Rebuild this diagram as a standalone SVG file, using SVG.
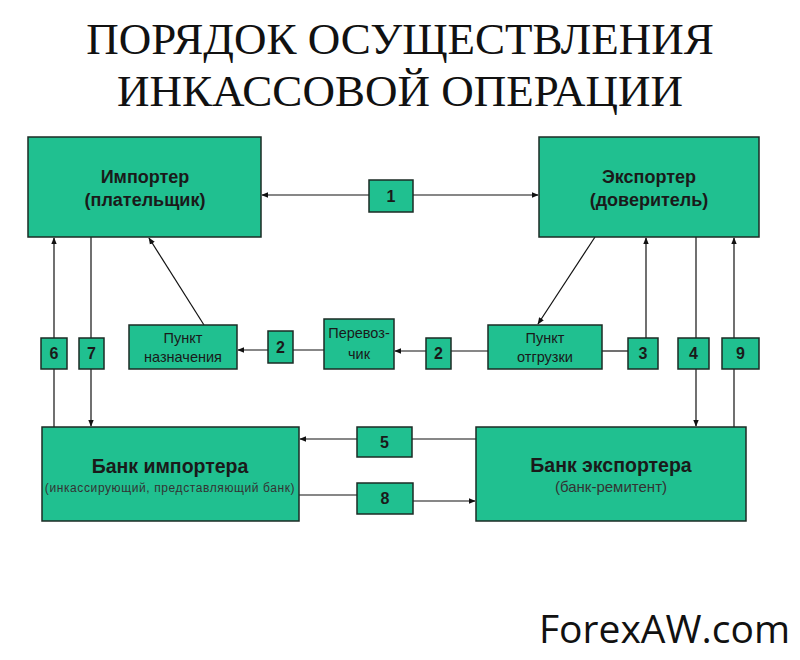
<svg xmlns="http://www.w3.org/2000/svg" width="800" height="660" viewBox="0 0 800 660">
<defs>
<style>
.box{fill:#20c090;stroke:#1b2b25;stroke-width:1.5}
.ln{stroke:#111;stroke-width:1.2;fill:none}
.t{font-family:"Liberation Sans",Arial,sans-serif;fill:#1a1a1a;text-anchor:middle}
.big{font-size:18px;font-weight:bold}
.sm{font-size:14.5px}
.num{font-size:16px;font-weight:bold}
.title{font-family:"Liberation Serif","Times New Roman",serif;font-size:45px;fill:#111;text-anchor:middle}
</style>
<marker id="ar" viewBox="0 0 10 10" refX="9" refY="5" markerWidth="7" markerHeight="7" orient="auto-start-reverse" markerUnits="userSpaceOnUse">
<path d="M0,1 L10,5 L0,9 z" fill="#111"/>
</marker>
</defs>
<rect width="800" height="660" fill="#fff"/>
<text class="title" x="400" y="54">ПОРЯДОК ОСУЩЕСТВЛЕНИЯ</text>
<text class="title" x="400" y="106">ИНКАССОВОЙ ОПЕРАЦИИ</text>

<g id="connectors">
<line class="ln" x1="262" y1="195" x2="538" y2="195" marker-start="url(#ar)" marker-end="url(#ar)"/>
<line class="ln" x1="54" y1="427" x2="54" y2="238" marker-end="url(#ar)"/>
<line class="ln" x1="91" y1="237" x2="91" y2="426" marker-end="url(#ar)"/>
<line class="ln" x1="204" y1="325" x2="149" y2="238" marker-end="url(#ar)"/>
<line class="ln" x1="595" y1="237" x2="538" y2="324" marker-end="url(#ar)"/>
<line class="ln" x1="646" y1="338" x2="646" y2="238" marker-end="url(#ar)"/>
<line class="ln" x1="696" y1="237" x2="696" y2="426" marker-end="url(#ar)"/>
<line class="ln" x1="734" y1="427" x2="734" y2="238" marker-end="url(#ar)"/>
<line class="ln" x1="602" y1="351" x2="628" y2="351"/>
<line class="ln" x1="488" y1="351" x2="395" y2="351" marker-end="url(#ar)"/>
<line class="ln" x1="324" y1="350" x2="238" y2="350" marker-end="url(#ar)"/>
<line class="ln" x1="476" y1="439" x2="300" y2="439" marker-end="url(#ar)"/>
<line class="ln" x1="299" y1="495" x2="357" y2="495"/>
<line class="ln" x1="413" y1="501" x2="475" y2="501" marker-end="url(#ar)"/>
</g>

<g id="importer"><rect class="box" x="28" y="137" width="233" height="100"/>
<text class="t big" x="145" y="183">Импортер</text><text class="t big" x="145" y="206">(плательщик)</text></g>
<g id="exporter"><rect class="box" x="539" y="137" width="220" height="100"/>
<text class="t big" x="649" y="183">Экспортер</text><text class="t big" x="649" y="206">(доверитель)</text></g>
<g id="n1"><rect class="box" x="369" y="180" width="44" height="32"/><text class="t num" x="391" y="202">1</text></g>

<g id="n6"><rect class="box" x="41" y="338" width="26" height="31"/><text class="t num" x="54" y="359">6</text></g>
<g id="n7"><rect class="box" x="79" y="338" width="25" height="31"/><text class="t num" x="91.5" y="359">7</text></g>
<g id="dest"><rect class="box" x="129" y="325" width="108" height="44"/>
<text class="t sm" x="183" y="343">Пункт</text><text class="t sm" x="183" y="362">назначения</text></g>
<g id="n2a"><rect class="box" x="268" y="331" width="25" height="32"/><text class="t num" x="280.5" y="353">2</text></g>
<g id="carrier"><rect class="box" x="324" y="319" width="70" height="50"/>
<text class="t sm" x="359" y="338">Перевоз-</text><text class="t sm" x="359" y="359">чик</text></g>
<g id="n2b"><rect class="box" x="426" y="338" width="25" height="31"/><text class="t num" x="438.5" y="359">2</text></g>
<g id="ship"><rect class="box" x="488" y="325" width="114" height="44"/>
<text class="t sm" x="545" y="343">Пункт</text><text class="t sm" x="545" y="362">отгрузки</text></g>
<g id="n3"><rect class="box" x="628" y="338" width="30" height="31"/><text class="t num" x="643" y="359">3</text></g>
<g id="n4"><rect class="box" x="678" y="338" width="31" height="31"/><text class="t num" x="693.5" y="359">4</text></g>
<g id="n9"><rect class="box" x="722" y="338" width="37" height="31"/><text class="t num" x="740.5" y="359">9</text></g>

<g id="bankImp"><rect class="box" x="42" y="427" width="257" height="94"/>
<text class="t" x="170" y="473" style="font-size:19.5px;font-weight:bold">Банк импортера</text>
<text class="t" x="170" y="492" style="font-size:12px;fill:#333;letter-spacing:0.6px">(инкассирующий, представляющий банк)</text></g>
<g id="n5"><rect class="box" x="357" y="427" width="55" height="30"/><text class="t num" x="384.5" y="448">5</text></g>
<g id="n8"><rect class="box" x="357" y="483" width="56" height="31"/><text class="t num" x="385" y="504">8</text></g>
<g id="bankExp"><rect class="box" x="476" y="427" width="270" height="94"/>
<text class="t" x="611" y="472" style="font-size:19.5px;font-weight:bold">Банк экспортера</text>
<text class="t" x="611" y="492" style="font-size:15px;fill:#333">(банк-ремитент)</text></g>

<text x="790" y="643" style="font-family:'Open Sans','Noto Sans',sans-serif;font-size:39px;fill:#111;text-anchor:end">ForexAW.com</text>
</svg>
